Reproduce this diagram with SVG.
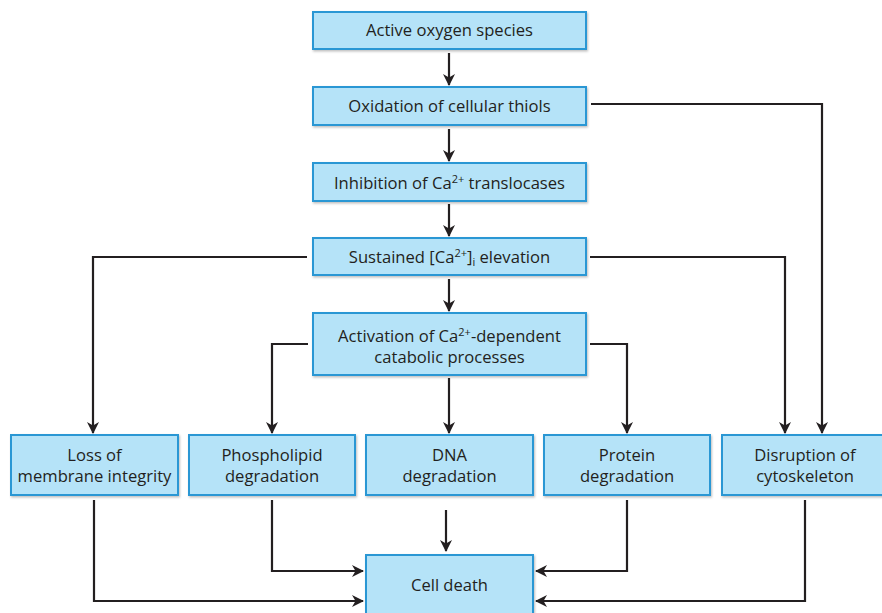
<svg xmlns="http://www.w3.org/2000/svg" width="882" height="613" viewBox="0 0 882 613">
<defs>
<marker id="ah" markerWidth="12" markerHeight="12" refX="11" refY="6" orient="auto" markerUnits="userSpaceOnUse">
<path d="M0,0 L12,6 L0,12 L3.5,6 Z" fill="#231f20"/>
</marker>
<filter id="sh" x="-10%" y="-10%" width="130%" height="140%">
<feDropShadow dx="1" dy="1.5" stdDeviation="1" flood-color="#000" flood-opacity="0.25"/>
</filter>
</defs>
<style>
.box{fill:#b5e3f8;stroke:#2a97d4;stroke-width:2;filter:url(#sh)}
.t{font-family:"Open Sans","Liberation Sans",sans-serif;font-size:16.6px;fill:#231f20;text-anchor:middle}
.s{font-size:11px}
.c{fill:none;stroke:#231f20;stroke-width:2.2;marker-end:url(#ah)}
</style>
<rect width="882" height="613" fill="#fff"/>
<g id="connectors">
<path class="c" d="M449,53 V85"/>
<path class="c" d="M449,129 V161"/>
<path class="c" d="M449,204 V236"/>
<path class="c" d="M449,279 V311"/>
<path class="c" d="M591,104 H822 V433"/>
<path class="c" d="M307,257 H93 V433"/>
<path class="c" d="M590,257 H785 V433"/>
<path class="c" d="M308,344 H272 V433"/>
<path class="c" d="M590,344 H627 V433"/>
<path class="c" d="M449,378 V433"/>
<path class="c" d="M94,500 V601 H363"/>
<path class="c" d="M272,500 V571 H363"/>
<path class="c" d="M446,510 V551"/>
<path class="c" d="M627,500 V571 H536"/>
<path class="c" d="M805,500 V601 H536"/>
</g>
<g id="n1"><rect class="box" x="313" y="12" width="273" height="37"/><text class="t" x="449.5" y="36">Active oxygen species</text></g>
<g id="n2"><rect class="box" x="313" y="87" width="273" height="38"/><text class="t" x="449.5" y="112">Oxidation of cellular thiols</text></g>
<g id="n3"><rect class="box" x="313" y="163" width="273" height="38"/><text class="t" x="449.5" y="189">Inhibition of Ca<tspan class="s" dy="-6">2+</tspan><tspan dy="6"> translocases</tspan></text></g>
<g id="n4"><rect class="box" x="313" y="238" width="273" height="37"/><text class="t" x="449.5" y="263">Sustained [Ca<tspan class="s" dy="-6">2+</tspan><tspan dy="6">]</tspan><tspan class="s" dy="3">i</tspan><tspan dy="-3"> elevation</tspan></text></g>
<g id="n5"><rect class="box" x="313" y="313" width="273" height="62"/><text class="t" x="449.5" y="342">Activation of Ca<tspan class="s" dy="-6">2+</tspan><tspan dy="6">-dependent</tspan></text><text class="t" x="449.5" y="363">catabolic processes</text></g>
<g id="n6"><rect class="box" x="11" y="435" width="167" height="60"/><text class="t" x="94.5" y="461">Loss of</text><text class="t" x="94.5" y="482">membrane integrity</text></g>
<g id="n7"><rect class="box" x="189" y="435" width="166" height="60"/><text class="t" x="272" y="461">Phospholipid</text><text class="t" x="272" y="482">degradation</text></g>
<g id="n8"><rect class="box" x="366" y="435" width="167" height="60"/><text class="t" x="449.5" y="461">DNA</text><text class="t" x="449.5" y="482">degradation</text></g>
<g id="n9"><rect class="box" x="544" y="435" width="166" height="60"/><text class="t" x="627" y="461">Protein</text><text class="t" x="627" y="482">degradation</text></g>
<g id="n10"><rect class="box" x="722" y="435" width="166" height="60"/><text class="t" x="805" y="461">Disruption of</text><text class="t" x="805" y="482">cytoskeleton</text></g>
<g id="n11"><rect class="box" x="366" y="555" width="167" height="62"/><text class="t" x="449.5" y="591" textLength="77" lengthAdjust="spacingAndGlyphs">Cell death</text></g>
</svg>
